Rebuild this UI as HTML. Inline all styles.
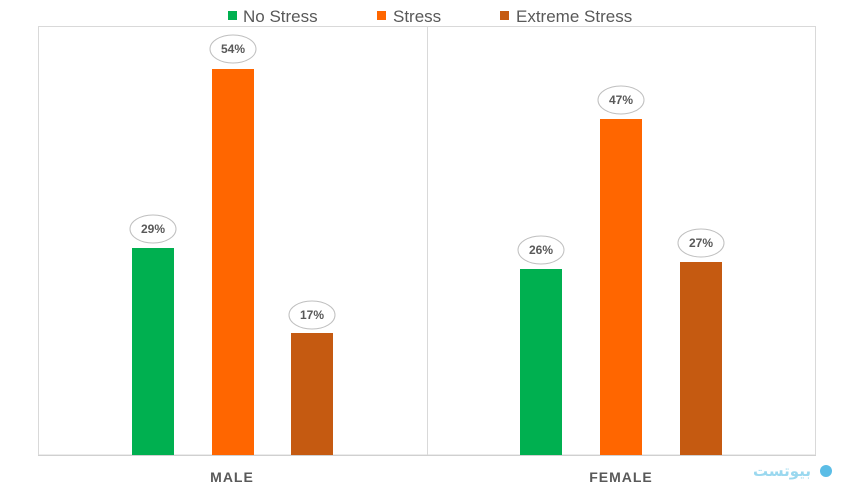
<!DOCTYPE html>
<html><head><style>
body{margin:0;width:854px;height:499px;background:#fff;overflow:hidden;font-family:"Liberation Sans",sans-serif}
</style></head><body>
<svg width="854" height="499" xmlns="http://www.w3.org/2000/svg" font-family="Liberation Sans, sans-serif">
<rect x="38.5" y="26.5" width="777" height="428.5" fill="none" stroke="#d9d9d9"/>
<line x1="427.5" y1="26" x2="427.5" y2="455" stroke="#d9d9d9"/>
<line x1="38" y1="455.5" x2="816" y2="455.5" stroke="#d0d0d0"/>
<rect x="228" y="11" width="9" height="9" fill="#00b050"/>
<text x="243" y="22" font-size="17" fill="#595959">No Stress</text>
<rect x="377" y="11" width="9" height="9" fill="#ff6600"/>
<text x="393" y="22" font-size="17" fill="#595959">Stress</text>
<rect x="500" y="11" width="9" height="9" fill="#c55a11"/>
<text x="516" y="22" font-size="17" fill="#595959">Extreme Stress</text>
<g>
<rect x="132" y="248" width="42" height="207" fill="#00b050"/>
<rect x="212" y="69" width="42" height="386" fill="#ff6600"/>
<rect x="291" y="333" width="42" height="122" fill="#c55a11"/>
<rect x="520" y="269" width="42" height="186" fill="#00b050"/>
<rect x="600" y="119" width="42" height="336" fill="#ff6600"/>
<rect x="680" y="262" width="42" height="193" fill="#c55a11"/>
</g>
<g fill="#fff" stroke="#bfbfbf" stroke-width="1">
<ellipse cx="153" cy="229" rx="23" ry="14"/>
<ellipse cx="233" cy="49" rx="23" ry="14"/>
<ellipse cx="312" cy="315" rx="23" ry="14"/>
<ellipse cx="541" cy="250" rx="23" ry="14"/>
<ellipse cx="621" cy="100" rx="23" ry="14"/>
<ellipse cx="701" cy="243" rx="23" ry="14"/>
</g>
<g font-size="12" font-weight="bold" fill="#595959" text-anchor="middle">
<text x="153" y="233">29%</text>
<text x="233" y="53">54%</text>
<text x="312" y="319">17%</text>
<text x="541" y="254">26%</text>
<text x="621" y="104">47%</text>
<text x="701" y="247">27%</text>
</g>
<g font-size="14" font-weight="bold" fill="#595959" text-anchor="middle" letter-spacing="1">
<text x="232" y="482">MALE</text>
<text x="621" y="482">FEMALE</text>
</g>
<text x="782" y="476" font-size="15" font-weight="bold" fill="#9ad8ef" text-anchor="middle" font-family="DejaVu Sans, sans-serif">بیوتست</text>
<circle cx="826" cy="471" r="6" fill="#5bbde6"/>
</svg>
</body></html>
